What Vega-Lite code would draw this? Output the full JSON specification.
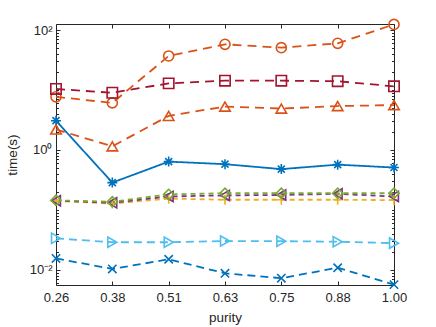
{
  "$schema": "https://vega.github.io/schema/vega-lite/v6.json",
  "width": 338,
  "height": 261,
  "autosize": "none",
  "padding": {"left": 56, "top": 24, "right": 42, "bottom": 42},
  "config": {
    "view": {"stroke": null},
    "font": "Liberation Sans",
    "axis": {
      "grid": false,
      "domainColor": "#262626",
      "tickColor": "#262626",
      "labelColor": "#262626",
      "titleColor": "#262626",
      "labelFontSize": 13,
      "titleFontSize": 13.5,
      "titleFontWeight": "normal",
      "domainWidth": 1,
      "tickWidth": 1,
      "labelFlush": false,
      "labelOverlap": false
    }
  },
  "data": {
    "values": [
      {"s": "S1", "p": 0.26, "t": 3.08}, {"s": "S1", "p": 0.3833, "t": 0.286}, {"s": "S1", "p": 0.5067, "t": 0.64}, {"s": "S1", "p": 0.63, "t": 0.58}, {"s": "S1", "p": 0.7533, "t": 0.48}, {"s": "S1", "p": 0.8767, "t": 0.57}, {"s": "S1", "p": 1.0, "t": 0.51},
      {"s": "S2", "p": 0.26, "t": 7.7}, {"s": "S2", "p": 0.3833, "t": 6.1}, {"s": "S2", "p": 0.5067, "t": 36.9}, {"s": "S2", "p": 0.63, "t": 57.7}, {"s": "S2", "p": 0.7533, "t": 50.8}, {"s": "S2", "p": 0.8767, "t": 60}, {"s": "S2", "p": 1.0, "t": 124},
      {"s": "S3", "p": 0.26, "t": 0.142}, {"s": "S3", "p": 0.3833, "t": 0.128}, {"s": "S3", "p": 0.5067, "t": 0.155}, {"s": "S3", "p": 0.63, "t": 0.148}, {"s": "S3", "p": 0.7533, "t": 0.148}, {"s": "S3", "p": 0.8767, "t": 0.148}, {"s": "S3", "p": 1.0, "t": 0.146},
      {"s": "S4", "p": 0.26, "t": 0.143}, {"s": "S4", "p": 0.3833, "t": 0.132}, {"s": "S4", "p": 0.5067, "t": 0.168}, {"s": "S4", "p": 0.63, "t": 0.175}, {"s": "S4", "p": 0.7533, "t": 0.178}, {"s": "S4", "p": 0.8767, "t": 0.186}, {"s": "S4", "p": 1.0, "t": 0.168},
      {"s": "S5", "p": 0.26, "t": 0.145}, {"s": "S5", "p": 0.3833, "t": 0.137}, {"s": "S5", "p": 0.5067, "t": 0.182}, {"s": "S5", "p": 0.63, "t": 0.19}, {"s": "S5", "p": 0.7533, "t": 0.19}, {"s": "S5", "p": 0.8767, "t": 0.19}, {"s": "S5", "p": 1.0, "t": 0.19},
      {"s": "S6", "p": 0.26, "t": 0.0337}, {"s": "S6", "p": 0.3833, "t": 0.029}, {"s": "S6", "p": 0.5067, "t": 0.029}, {"s": "S6", "p": 0.63, "t": 0.0304}, {"s": "S6", "p": 0.7533, "t": 0.0302}, {"s": "S6", "p": 0.8767, "t": 0.0296}, {"s": "S6", "p": 1.0, "t": 0.028},
      {"s": "S7", "p": 0.26, "t": 10.4}, {"s": "S7", "p": 0.3833, "t": 9.0}, {"s": "S7", "p": 0.5067, "t": 12.9}, {"s": "S7", "p": 0.63, "t": 14.3}, {"s": "S7", "p": 0.7533, "t": 14.3}, {"s": "S7", "p": 0.8767, "t": 14.0}, {"s": "S7", "p": 1.0, "t": 11.5},
      {"s": "S8", "p": 0.26, "t": 0.0156}, {"s": "S8", "p": 0.3833, "t": 0.0104}, {"s": "S8", "p": 0.5067, "t": 0.0151}, {"s": "S8", "p": 0.63, "t": 0.0088}, {"s": "S8", "p": 0.7533, "t": 0.0073}, {"s": "S8", "p": 0.8767, "t": 0.0109}, {"s": "S8", "p": 1.0, "t": 0.0057},
      {"s": "S9", "p": 0.26, "t": 2.2}, {"s": "S9", "p": 0.3833, "t": 1.15}, {"s": "S9", "p": 0.5067, "t": 3.7}, {"s": "S9", "p": 0.63, "t": 5.3}, {"s": "S9", "p": 0.7533, "t": 4.9}, {"s": "S9", "p": 0.8767, "t": 5.4}, {"s": "S9", "p": 1.0, "t": 5.6}
    ]
  },
  "encoding": {
    "x": {"field": "p", "type": "quantitative", "scale": {"domain": [0.26, 1.0], "nice": false, "zero": false}},
    "y": {"field": "t", "type": "quantitative", "scale": {"type": "log", "domain": [0.00562, 125.9], "nice": false}}
  },
  "layer": [
    {
      "mark": {"type": "line", "strokeWidth": 1.8},
      "encoding": {
        "color": {"field": "s", "type": "nominal", "legend": null,
          "scale": {"domain": ["S1","S2","S3","S4","S5","S6","S7","S8","S9"],
                    "range": ["#0072BD","#D95319","#EDB120","#7E2F8E","#77AC30","#4DBEEE","#A2142F","#0072BD","#D95319"]}},
        "strokeDash": {"field": "s", "type": "nominal", "legend": null,
          "scale": {"domain": ["S1","S2","S3","S4","S5","S6","S7","S8","S9"],
                    "range": [[1,0],[9,6],[5,4],[5,4],[5,4],[8,5],[9,6],[8,5],[9,6]]}},
        "x": {"field": "p", "type": "quantitative",
          "axis": {"orient": "bottom", "values": [0.26, 0.3833, 0.5067, 0.63, 0.7533, 0.8767, 1.0], "format": ".2f", "tickSize": -4, "labelPadding": 10, "title": "purity", "titlePadding": 6}},
        "y": {"field": "t", "type": "quantitative",
          "axis": {"orient": "left", "values": [0.01, 1, 100], "labelExpr": "datum.value > 10 ? '10²' : datum.value > 0.5 ? '10⁰' : '10⁻²'", "tickSize": -4, "labelPadding": 8, "title": "time(s)", "titlePadding": 10}}
      }
    },
    {
      "mark": {"type": "point", "filled": false, "strokeWidth": 1.6, "opacity": 1},
      "encoding": {
        "color": {"field": "s", "type": "nominal", "legend": null},
        "shape": {"field": "s", "type": "nominal", "legend": null,
          "scale": {"domain": ["S1","S2","S3","S4","S5","S6","S7","S8","S9"],
                    "range": ["M-1,0L1,0M0,-1L0,1M-0.7,-0.7L0.7,0.7M-0.7,0.7L0.7,-0.7", "circle", "M-1,0L1,0M0,-1L0,1", "triangle-left", "diamond", "triangle-right", "square", "M-0.8,-0.8L0.8,0.8M-0.8,0.8L0.8,-0.8", "triangle-up"]}},
        "size": {"field": "s", "type": "nominal", "legend": null,
          "scale": {"domain": ["S1","S2","S3","S4","S5","S6","S7","S8","S9"],
                    "range": [100, 110, 110, 130, 150, 140, 80, 90, 150]}},
        "x": {"field": "p", "type": "quantitative",
          "axis": {"orient": "top", "values": [0.26, 0.3833, 0.5067, 0.63, 0.7533, 0.8767, 1.0], "labels": false, "tickSize": -4, "title": null}},
        "y": {"field": "t", "type": "quantitative",
          "axis": {"orient": "right", "values": [0.01, 1, 100], "labels": false, "tickSize": -4, "title": null}}
      }
    },
    {
      "mark": {"type": "point", "opacity": 0},
      "encoding": {
        "x": {"field": "p", "type": "quantitative", "axis": null},
        "y": {"field": "t", "type": "quantitative",
          "axis": {"orient": "left", "values": [0.006,0.007,0.008,0.009,0.02,0.03,0.04,0.05,0.06,0.07,0.08,0.09,0.1,0.2,0.3,0.4,0.5,0.6,0.7,0.8,0.9,2,3,4,5,6,7,8,9,10,20,30,40,50,60,70,80,90], "labels": false, "domain": false, "tickSize": -2.5, "title": null}}
      }
    },
    {
      "mark": {"type": "point", "opacity": 0},
      "encoding": {
        "x": {"field": "p", "type": "quantitative", "axis": null},
        "y": {"field": "t", "type": "quantitative",
          "axis": {"orient": "right", "values": [0.006,0.007,0.008,0.009,0.02,0.03,0.04,0.05,0.06,0.07,0.08,0.09,0.1,0.2,0.3,0.4,0.5,0.6,0.7,0.8,0.9,2,3,4,5,6,7,8,9,10,20,30,40,50,60,70,80,90], "labels": false, "domain": false, "tickSize": -2.5, "title": null}}
      }
    }
  ],
  "resolve": {"axis": {"x": "independent", "y": "independent"}}
}
